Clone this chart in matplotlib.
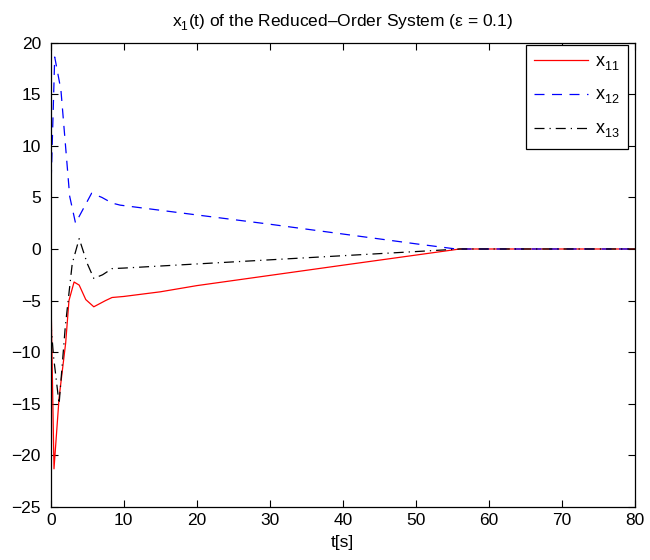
import matplotlib
matplotlib.use("Agg")
import matplotlib.pyplot as plt

plt.rcParams['font.family'] = ['Liberation Sans', 'DejaVu Sans']
plt.rcParams['mathtext.fontset'] = 'custom'
plt.rcParams['mathtext.rm'] = 'Liberation Sans'
plt.rcParams['mathtext.it'] = 'Liberation Sans'

# Drop subscripts a little lower than the mathtext default
try:
    import matplotlib._mathtext as _mt
    _mt.FontConstantsBase.sub1 = 0.45
    _mt.FontConstantsBase.sub2 = 0.55
except Exception:
    pass

# Trajectories of the reduced-order state x1 (components x11, x12, x13)
t11 = [0, 0.45, 1.15, 2.05, 2.5, 3.2, 3.9, 4.8, 5.9, 7.5, 8.4, 10, 15, 20, 30, 40, 50, 56, 60, 70, 80]
x11 = [-3.0, -21.3, -14.4, -9.1, -5.0, -3.2, -3.5, -4.9, -5.6, -5.0, -4.7, -4.6, -4.15, -3.55, -2.56, -1.57, -0.59, 0, 0, 0, 0]

t12 = [0, 0.55, 1.4, 2.6, 3.4, 5.6, 7.0, 8.4, 9.5, 20, 30, 40, 50, 55.5, 60, 70, 80]
x12 = [5.0, 18.6, 15.4, 5.1, 2.5, 5.4, 5.0, 4.45, 4.25, 3.3, 2.4, 1.45, 0.5, 0, 0, 0, 0]

t13 = [0, 0.4, 1.15, 2.0, 2.95, 3.9, 5.0, 5.9, 7.1, 8.4, 10, 20, 30, 40, 50, 56, 60, 70, 80]
x13 = [-7.0, -10.5, -15.0, -7.5, -1.4, 1.0, -1.4, -2.85, -2.5, -1.9, -1.85, -1.45, -1.05, -0.65, -0.25, 0, 0, 0, 0]

series_labels = [r'x$_{11}$', r'x$_{12}$', r'x$_{13}$']
x_ticks = list(range(0, 81, 10))
y_ticks = list(range(-25, 21, 5))

fig = plt.figure(figsize=(6.5, 5.6), dpi=100)
ax = fig.add_axes([0.078, 0.0946, 0.899, 0.8294])

lw = 0.9
ax.plot(t11, x11, color='#ff0000', lw=lw, label=series_labels[0])
ax.plot(t12, x12, color='#0000ff', lw=lw, dashes=(8, 6), label=series_labels[1])
ax.plot(t13, x13, color='black', lw=lw, dashes=(8, 4, 1, 4), label=series_labels[2])

ax.set_xlim(0, 80)
ax.set_ylim(-25, 20)
ax.set_xticks(x_ticks)
ax.set_yticks(y_ticks)
ax.tick_params(direction='in', top=True, right=True, length=5, width=0.8,
               labelsize=12.5)
ax.tick_params(axis='x', pad=4)
ax.tick_params(axis='y', pad=7)
for s in ax.spines.values():
    s.set_linewidth(0.9)

ax.set_xlabel('t[s]', fontsize=12.5, labelpad=5)
ax.set_title(r'x$_1$(t) of the Reduced–Order System (ε = 0.1)', fontsize=12.5, pad=11)

leg = ax.legend(loc='upper right', bbox_to_anchor=(0.988, 0.995), fontsize=13,
                frameon=True, fancybox=False, edgecolor='black', framealpha=1,
                handlelength=3.0, handletextpad=0.4, labelspacing=0.8,
                borderpad=0.45, borderaxespad=0)
leg.get_frame().set_linewidth(0.9)

fig.savefig('out.png', dpi=100)
